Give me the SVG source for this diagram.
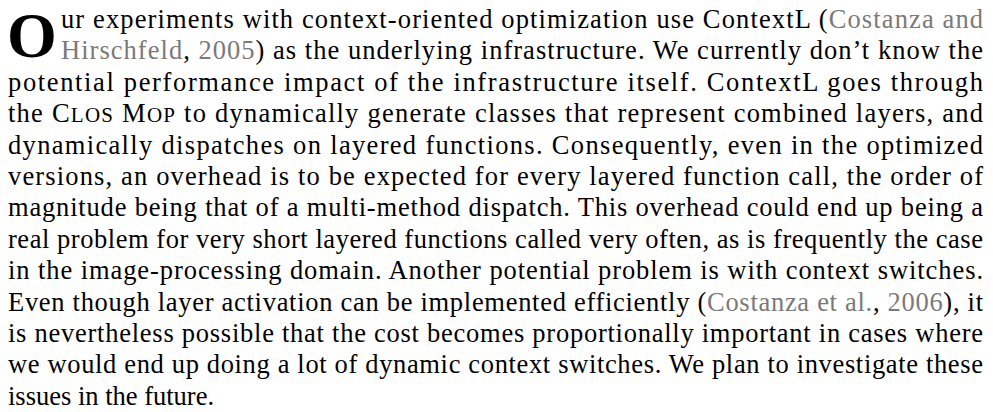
<svg xmlns="http://www.w3.org/2000/svg" width="993" height="412" viewBox="0 0 993 412">
<style>
.t{font-family:"Liberation Serif","Times New Roman",serif;font-size:26.5px;fill:#000}
.c{fill:#7a7a7a}
.sc{font-size:21px}
.cap{font-family:"Liberation Serif",serif;font-weight:bold;font-size:64px;fill:#000}
</style>
<rect width="993" height="412" fill="#fff"/>
<g id="dropcap"><text class="cap" x="7" y="57">O</text></g>
<g id="paragraph">
<text class="t" x="61" y="28" textLength="922" lengthAdjust="spacing">ur experiments with context-oriented optimization use ContextL (<tspan class="c">Costanza and</tspan></text>
<text class="t" x="61" y="59.4" textLength="922" lengthAdjust="spacing"><tspan class="c">Hirschfeld</tspan>, <tspan class="c">2005</tspan>) as the underlying infrastructure. We currently don’t know the</text>
<text class="t" x="8" y="90.8" textLength="975" lengthAdjust="spacing">potential performance impact of the infrastructure itself.  ContextL goes through</text>
<text class="t" x="8" y="122.2" textLength="975" lengthAdjust="spacing">the C<tspan class="sc">LOS</tspan> M<tspan class="sc">OP</tspan> to dynamically generate classes that represent combined layers, and</text>
<text class="t" x="8" y="153.6" textLength="975" lengthAdjust="spacing">dynamically dispatches on layered functions.  Consequently, even in the optimized</text>
<text class="t" x="8" y="185" textLength="975" lengthAdjust="spacing">versions, an overhead is to be expected for every layered function call, the order of</text>
<text class="t" x="8" y="216.4" textLength="975" lengthAdjust="spacing">magnitude being that of a multi-method dispatch.  This overhead could end up being a</text>
<text class="t" x="8" y="247.8" textLength="975" lengthAdjust="spacing">real problem for very short layered functions called very often, as is frequently the case</text>
<text class="t" x="8" y="279.2" textLength="975" lengthAdjust="spacing">in the image-processing domain.  Another potential problem is with context switches.</text>
<text class="t" x="8" y="310.6" textLength="975" lengthAdjust="spacing">Even though layer activation can be implemented efficiently (<tspan class="c">Costanza et al.</tspan>, <tspan class="c">2006</tspan>), it</text>
<text class="t" x="8" y="342" textLength="975" lengthAdjust="spacing">is nevertheless possible that the cost becomes proportionally important in cases where</text>
<text class="t" x="8" y="373.4" textLength="975" lengthAdjust="spacing">we would end up doing a lot of dynamic context switches.  We plan to investigate these</text>
<text class="t" x="8" y="404.8">issues in the future.</text>
</g>
</svg>
